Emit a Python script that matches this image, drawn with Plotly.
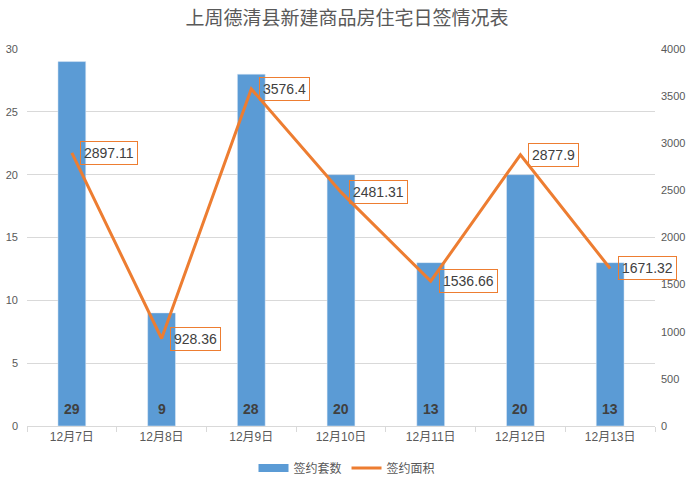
import plotly.graph_objects as go

categories = ["12月7日", "12月8日", "12月9日", "12月10日", "12月11日", "12月12日", "12月13日"]
units = [29, 9, 28, 20, 13, 20, 13]
area = [2897.11, 928.36, 3576.4, 2481.31, 1536.66, 2877.9, 1671.32]
area_labels = ["2897.11", "928.36", "3576.4", "2481.31", "1536.66", "2877.9", "1671.32"]

FONT = "Liberation Sans, Noto Sans CJK SC, sans-serif"
GRAY = "#595959"
BLUE = "#5B9BD5"
ORANGE = "#ED7D31"

fig = go.Figure()
fig.add_trace(go.Bar(
    x=categories, y=units, name="签约套数", marker_color=BLUE,
    width=0.31, yaxis="y", showlegend=False,
))
# legend-only entry to mimic the wide rectangle legend key
fig.add_trace(go.Scatter(
    x=[categories[0]], y=[None], name="签约套数", mode="lines",
    line=dict(color=BLUE, width=8), yaxis="y", showlegend=True,
))
fig.add_trace(go.Scatter(
    x=categories, y=area, name="签约面积", mode="lines",
    line=dict(color=ORANGE, width=3), yaxis="y2",
))

annotations = []
for c, v in zip(categories, units):
    annotations.append(dict(
        x=c, y=0, xref="x", yref="y", text=f"<b>{v}</b>", showarrow=False,
        yanchor="middle", yshift=17, font=dict(size=14, color="#404040", family=FONT),
    ))
for c, v, t in zip(categories, area, area_labels):
    annotations.append(dict(
        x=c, y=v, xref="x", yref="y2", text=t, showarrow=False,
        xanchor="left", yanchor="middle", xshift=8,
        bordercolor=ORANGE, borderwidth=1, borderpad=3,
        font=dict(size=14, color="#404040", family=FONT),
    ))

fig.update_layout(
    width=694, height=486,
    margin=dict(l=27, r=39, t=49, b=60, autoexpand=False),
    paper_bgcolor="white", plot_bgcolor="white",
    font=dict(family=FONT, color=GRAY, size=11),
    title=dict(text="上周德清县新建商品房住宅日签情况表", x=0.5, xanchor="center",
               y=0.963, yanchor="middle", font=dict(size=19, color=GRAY)),
    xaxis=dict(
        type="category", categoryarray=categories, range=[-0.5, len(categories) - 0.5],
        showline=True, linecolor="#D9D9D9", linewidth=1,
        ticks="outside", tickson="boundaries", ticklen=5, tickcolor="#D9D9D9",
        tickfont=dict(size=12, color=GRAY), showgrid=False, automargin=False,
    ),
    yaxis=dict(
        range=[0, 30], dtick=5, showgrid=True, gridcolor="#D9D9D9",
        zeroline=False, showline=False, tickfont=dict(size=11, color=GRAY),
        ticklabelstandoff=8, automargin=False,
    ),
    yaxis2=dict(
        range=[0, 4000], dtick=500, overlaying="y", side="right",
        showgrid=False, zeroline=False, showline=False,
        tickfont=dict(size=11, color=GRAY), ticklabelstandoff=5, automargin=False,
    ),
    legend=dict(orientation="h", x=0.5, xanchor="center", xref="container",
                y=0.037, yanchor="middle", yref="container",
                font=dict(size=12, color=GRAY), itemwidth=30, tracegroupgap=0),
    annotations=annotations,
    bargap=0.6,
)

fig.write_html("out.html")
